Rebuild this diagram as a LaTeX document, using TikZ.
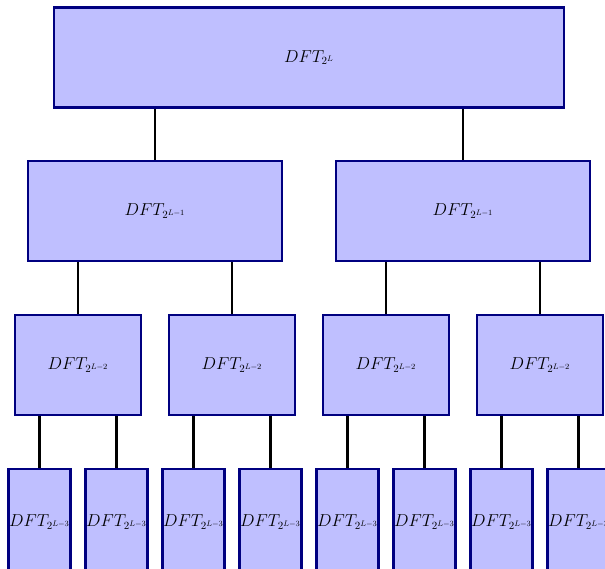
\documentclass[tikz,border=0pt]{standalone}
\begin{document}
\begin{tikzpicture}[x=1pt,y=-1pt,
  dftbox/.style={draw=blue!50!black,fill=blue!25,line width=2.3pt,inner sep=0pt,
    minimum height=100pt,font=\fontsize{16}{19}\selectfont},
  w0/.style={dftbox,minimum width=510pt},
  w1/.style={dftbox,minimum width=254pt},
  w2/.style={dftbox,minimum width=126pt},
  w3/.style={dftbox,minimum width=62pt},
  w3b/.style={w3,minimum height=106pt},
  conn/.style={draw=black,line width=2.8pt}]
\clip (0,0) rectangle (605,569);
\node[w0] (r0) at (309,57.5) {$DFT_{2^{L}}$};
\node[w1] (r1a) at (155,211) {$DFT_{2^{L-1}}$};
\node[w1] (r1b) at (463,211) {$DFT_{2^{L-1}}$};
\node[w2] (r2a) at (78,365) {$DFT_{2^{L-2}}$};
\node[w2] (r2b) at (232,365) {$DFT_{2^{L-2}}$};
\node[w2] (r2c) at (386,365) {$DFT_{2^{L-2}}$};
\node[w2] (r2d) at (540,365) {$DFT_{2^{L-2}}$};
\node[w3b] (r3a) at (39.5,522) {$DFT_{2^{L-3}}$};
\node[w3b] (r3b) at (116.5,522) {$DFT_{2^{L-3}}$};
\node[w3b] (r3c) at (193.5,522) {$DFT_{2^{L-3}}$};
\node[w3b] (r3d) at (270.5,522) {$DFT_{2^{L-3}}$};
\node[w3b] (r3e) at (347.5,522) {$DFT_{2^{L-3}}$};
\node[w3b] (r3f) at (424.5,522) {$DFT_{2^{L-3}}$};
\node[w3b] (r3g) at (501.5,522) {$DFT_{2^{L-3}}$};
\node[w3b] (r3h) at (578.5,522) {$DFT_{2^{L-3}}$};
\draw[conn] (r1a.north) -- (r1a.north |- r0.south);
\draw[conn] (r1b.north) -- (r1b.north |- r0.south);
\draw[conn] (r2a.north) -- (r2a.north |- r1a.south);
\draw[conn] (r2b.north) -- (r2b.north |- r1a.south);
\draw[conn] (r2c.north) -- (r2c.north |- r1b.south);
\draw[conn] (r2d.north) -- (r2d.north |- r1b.south);
\draw[conn] (r3a.north) -- (r3a.north |- r2a.south);
\draw[conn] (r3b.north) -- (r3b.north |- r2a.south);
\draw[conn] (r3c.north) -- (r3c.north |- r2b.south);
\draw[conn] (r3d.north) -- (r3d.north |- r2b.south);
\draw[conn] (r3e.north) -- (r3e.north |- r2c.south);
\draw[conn] (r3f.north) -- (r3f.north |- r2c.south);
\draw[conn] (r3g.north) -- (r3g.north |- r2d.south);
\draw[conn] (r3h.north) -- (r3h.north |- r2d.south);
\end{tikzpicture}
\end{document}
